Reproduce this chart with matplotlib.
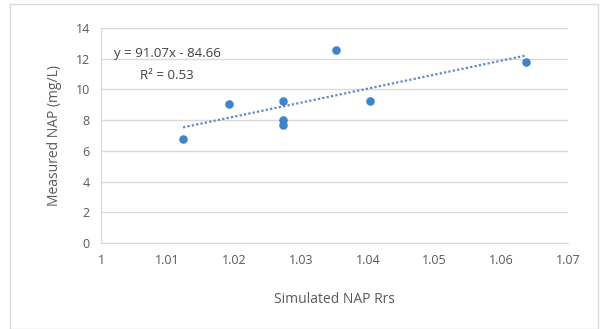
import numpy as np
import matplotlib.pyplot as plt
from matplotlib.patches import Rectangle

sim_rrs = [1.0123, 1.0192, 1.0273, 1.0273, 1.0273, 1.0352, 1.0403, 1.0637]
meas_nap = [6.77, 9.05, 9.25, 8.0, 7.7, 12.56, 9.25, 11.78]
slope, intercept = 91.07, -84.66
r2 = 0.53

x_ticks = [1, 1.01, 1.02, 1.03, 1.04, 1.05, 1.06, 1.07]
x_tick_labels = ["1", "1.01", "1.02", "1.03", "1.04", "1.05", "1.06", "1.07"]
y_ticks = [0, 2, 4, 6, 8, 10, 12, 14]

plt.rcParams['font.family'] = ['Open Sans', 'DejaVu Sans']
grey = '#595959'

fig = plt.figure(figsize=(6.01, 3.29), dpi=100)
fig.patches.append(Rectangle((10/601, 0.0), 588/601, 1 - 4/329, transform=fig.transFigure,
                             fill=False, edgecolor='#d9d9d9', linewidth=1))
ax = fig.add_axes([101/601, 1 - 243/329, 467/601, 215/329])

ax.scatter(sim_rrs, meas_nap, s=38, color='#3d85c8', zorder=3, linewidths=0)

# trendline from the fitted equation shown on the chart
xs = np.array([min(sim_rrs), max(sim_rrs)])
ax.plot(xs, slope*xs + intercept, linestyle=(0, (1, 1)), color='#5b8ac4', linewidth=1.6, zorder=2)

ax.set_xlim(1, 1.07)
ax.set_ylim(0, 14)
ax.set_xticks(x_ticks)
ax.set_xticklabels(x_tick_labels)
ax.set_yticks(y_ticks)
ax.grid(axis='y', color='#d9d9d9', linewidth=1)
ax.set_axisbelow(True)
for s in ['top', 'right']:
    ax.spines[s].set_visible(False)
ax.spines['left'].set_color('#d9d9d9')
ax.spines['bottom'].set_color('#d9d9d9')
ax.tick_params(length=0, colors=grey, labelsize=9, pad=8)

ax.set_xlabel("Simulated NAP Rrs", color=grey, fontsize=10, labelpad=18)
ax.set_ylabel("Measured NAP (mg/L)", color=grey, fontsize=10, labelpad=10)

ax.text(1.0019, 12.35, "y = 91.07x - 84.66", color='#404040', fontsize=9.5, va='center')
ax.text(1.0059, 10.9, "R² = %.2f" % r2, color='#404040', fontsize=9.5, va='center')

fig.savefig("out.png", dpi=100)
